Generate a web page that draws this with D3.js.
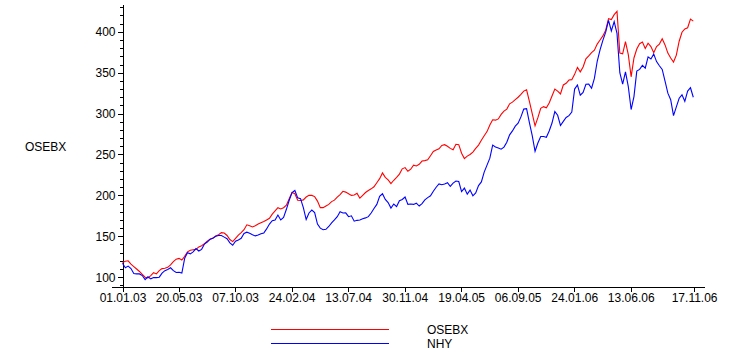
<!DOCTYPE html>
<html>
<head>
<meta charset="utf-8">
<script src="https://cdn.jsdelivr.net/npm/d3@7"></script>
<style>
  html, body { margin: 0; padding: 0; background: #fff; }
  svg { display: block; }
  text { font-family: "Liberation Sans", Arial, sans-serif; font-size: 12px; fill: #000; }
</style>
</head>
<body>
<svg id="chart" width="745" height="357"></svg>
<script>
// ---- data (weekly readings from 01.01.2003) ----
const startDate = "01.01.03";
const seriesNames = ["OSEBX", "NHY"];
const seriesColors = ["#ff0000", "#0000ff"];

const osebx = [
  118,119.5,120,116,113,110,107,103.5,100,99,102,105.5,104,108,110.5,111,112,115,119,122,
  123,121,125.5,131,133,133.5,134,137,138.5,141,144,146.5,148,150.5,152,154.5,154,151,146,143.5,
  147.5,151.5,154.5,158,164,163,161.5,163,165,166.5,168,170,172,177,181,185,183.5,185,188,196,
  203.5,202,194,193.8,194.5,198,200,200,198.5,193,185,185,187,189,192.4,194.2,198,201,205,204,
  202,200,200.5,202.5,196.6,200,203.5,206,208,210.5,215.5,220.5,227.5,222,219,214.5,218.5,222,226,232.5,
  234,229.5,232,237,236,238,242,242.5,243.5,248.5,253.7,255.5,257,261,262,260,257.5,255.7,262.5,262,
  251.6,245,248,250,253,257.5,261.5,267.5,273,278,286,292.5,292,293.5,299,303,305.5,312,314,317,
  320,323.5,327.5,329,315,300,285,295,306.5,308.5,307,313,321.5,330,327.5,324,335,337,341,341.5,
  348,356.5,351,357,367,370.5,374.6,377.5,385,390,395,402,416,415,421,425,374,373,388,372,
  345,368,379,385.5,387.5,379.5,386,382,374.5,382,385,391.5,384,374,368,363,371.5,388.5,399.5,403.5,
  405,415.5,413
];

const nhy = [
  117,111.5,113.5,110.5,104.5,104,104,102,97,100.5,98,99.5,99.5,100,105,108,109.5,111.5,108,105.7,
  106,105,123,130,128.5,131,135,132,134,140.5,143,146.5,147.5,150,151,151,149,147,142,139,
  144,145.6,147.5,153.5,155,153.8,152,150.5,151.5,153,154,159,165,169,170,176,170,173,183,194,
  203.5,206,197,196,185,170.5,178.5,182,179,165,160,158,158.5,162,166.5,170,174,180,178.5,178.7,
  174,175,168.5,169.5,170,171.5,172.5,174,178.5,184,189,199,202,195,191.2,184.5,189.5,186.3,193.5,195,
  198,189,189.5,189,190.5,187,190,194.5,197.3,199.5,205,210,214,213,214,215.5,211,215,217.5,217,
  204.7,209,201.5,206.5,199.5,203,212,216.5,228.5,237,245.5,261.5,259.2,258,256.5,259,265,274,278.8,284.7,
  288.3,296,305.5,306,289,273,254,264,272,272,271,278.7,288.5,302.5,298,285.5,290.5,295.2,297.5,302,
  330,335,322.5,326,335.8,336,331,343,364,378,389.5,399.5,414,401,412.5,398,350,336,351,333,
  305,320.8,352,354,359,355.5,369.3,366.8,372.7,363.6,358.5,354,339.6,325,317,297.5,308.3,318.8,323,315,
  327.5,331.6,320
];

const xTickLabels = ["01.01.03","20.05.03","07.10.03","24.02.04","13.07.04","30.11.04",
                     "19.04.05","06.09.05","24.01.06","13.06.06","17.11.06"];
const yTickValues = [100,150,200,250,300,350,400];
const yTitle = "OSEBX";

// ---- setup ----
const parse = d3.utcParse("%d.%m.%y");
const t0 = parse(startDate);
const dates = osebx.map((_, i) => d3.utcDay.offset(t0, 7 * i));

const svg = d3.select("#chart");
const x = d3.scaleUtc().domain([t0, parse("14.12.06")]).range([122.5, 705]);
const y = d3.scaleLinear().domain([88, 434]).range([287, 4]);

// y axis with minor ticks
const minor = d3.range(90, 431, 10).filter(v => v % 50 !== 0);
svg.append("g")
  .attr("transform", "translate(122.5,0)")
  .call(d3.axisLeft(y).tickValues(minor).tickSize(3).tickFormat(""))
  .call(g => g.select(".domain").remove())
  .call(g => g.selectAll("line").attr("stroke", "#000").attr("shape-rendering", "crispEdges"));

const yAx = svg.append("g")
  .attr("transform", "translate(122.5,0)")
  .call(d3.axisLeft(y).tickValues(yTickValues).tickSize(5).tickSizeOuter(0).tickPadding(2).tickFormat(d3.format("d")));
yAx.select(".domain").attr("stroke", "#000").attr("shape-rendering", "crispEdges");
yAx.selectAll("line").attr("stroke", "#000").attr("shape-rendering", "crispEdges");
yAx.selectAll("text").attr("font-family", "Liberation Sans, Arial, sans-serif").attr("font-size", 12).attr("fill", "#000");

// x axis
const xAx = svg.append("g")
  .attr("transform", "translate(0,287.5)")
  .call(d3.axisBottom(x).tickValues(xTickLabels.map(parse)).tickSize(4).tickSizeOuter(0).tickPadding(2)
        .tickFormat((d, i) => xTickLabels[i]));
xAx.select(".domain").attr("d", `M112,0H${x.range()[1]}`).attr("stroke", "#000").attr("shape-rendering", "crispEdges");
xAx.selectAll("line").attr("stroke", "#000").attr("shape-rendering", "crispEdges");
xAx.selectAll("text").attr("font-family", "Liberation Sans, Arial, sans-serif").attr("font-size", 12).attr("fill", "#000");

// y title
svg.append("text").attr("x", 25).attr("y", 151).text(yTitle);

// lines
const line = d3.line().x((d, i) => x(dates[i])).y(d => y(d));
[osebx, nhy].forEach((s, k) => {
  svg.append("path").datum(s)
    .attr("fill", "none").attr("stroke", seriesColors[k]).attr("stroke-width", 1.1)
    .attr("stroke-linejoin", "miter")
    .attr("d", line);
});

// legend
seriesNames.forEach((n, k) => {
  const ly = 329.5 + k * 14;
  svg.append("line").attr("x1", 271).attr("x2", 389).attr("y1", ly).attr("y2", ly)
    .attr("stroke", seriesColors[k]).attr("stroke-width", 1).attr("shape-rendering", "crispEdges");
  svg.append("text").attr("x", 427).attr("y", ly + 4.5).text(n);
});
</script>
</body>
</html>
